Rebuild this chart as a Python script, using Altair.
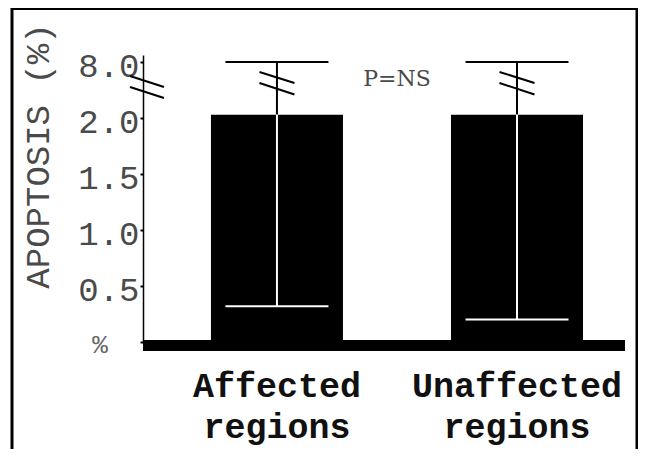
import altair as alt
import pandas as pd

# ---------------- data ----------------
categories = ["Affected regions", "Unaffected regions"]
means = [2.03, 2.03]
upper_err = [8.0, 8.0]
lower_err = [0.32, 0.20]
y_tick_values = [0.0, 0.5, 1.0, 1.5, 2.0, 8.0]
axis_break_value = 2.87   # where the y axis is broken
bar_break_value = 3.69    # where the error bars are broken
p_text = ["P=NS"]
y_title = ["APOPTOSIS (%)"]
zero_label = ["%"]

# ---------------- layout ----------------
W, H = 482, 287
UNIT = 112
MONO = "Liberation Mono, Courier New, monospace"
GREY = "#4a4a4a"
BREAK_BAR = "M-1,-0.63L1,0M-1,0L1,0.66"
BREAK_AXIS = "M-0.97,-0.63L0.97,0M-0.97,0L0.97,0.63"

df = pd.DataFrame({"region": categories, "mean": means,
                   "upper": upper_err, "lower": lower_err})
one = pd.DataFrame({"k": [0]})

yscale = alt.Scale(domain=[0, 2.25, 8.0, 8.5],
                   range=[H, H - 2.25 * UNIT, H - 2.5 * UNIT, 0],
                   nice=False, zero=False)
xscale = alt.Scale(domain=categories, paddingInner=0.45,
                   paddingOuter=0.229, align=0.618)

xaxis = alt.Axis(title=None, labelAngle=0, domain=False, ticks=False,
                 tickSize=0, labelPadding=26, labelFont=MONO,
                 labelFontWeight="bold", labelFontSize=35,
                 labelColor="#111111", labelLineHeight=41,
                 labelLimit=0, labelOverlap=False,
                 labelExpr="split(datum.label, ' ')")
yaxis = alt.Axis(values=y_tick_values, title=None, grid=False,
                 labelExpr="datum.value == 0 ? '' : format(datum.value, '.1f')",
                 labelFont=MONO, labelFontSize=34, labelColor=GREY,
                 tickSize=3, tickColor="black", tickWidth=2,
                 domainColor="black", domainWidth=1.5,
                 labelPadding=1, labelOffset=4,
                 labelOverlap=False, labelFlush=False)

xn = alt.X("region:N", scale=xscale, sort=categories, axis=xaxis)

def yq(field):
    return alt.Y(field, type="quantitative", scale=yscale, axis=yaxis)

def yd(value):
    return alt.YDatum(value, type="quantitative", scale=yscale, axis=yaxis)

base = alt.Chart(df)

frame = alt.Chart(one).mark_rect(fillOpacity=0, stroke="black", strokeWidth=3).encode(
    x=alt.value(-131), x2=alt.value(494), y=alt.value(-46.5), y2=alt.value(520)
)

bars = base.mark_bar(color="black").encode(x=xn, y=yq("mean"))

baseline = alt.Chart(one).mark_rule(color="black", strokeWidth=11, yOffset=3.5).encode(
    x=alt.value(0), x2=alt.value(W), y=yd(0)
)

upper_line = base.mark_rule(color="black", strokeWidth=2).encode(
    x=xn, y=yq("mean"), y2="upper:Q")
upper_cap = base.mark_tick(color="black", thickness=2, size=103, opacity=1).encode(
    x=xn, y=yq("upper"))
lower_line = base.mark_rule(color="white", strokeWidth=2).encode(
    x=xn, y=yq("lower"), y2="mean:Q")
lower_cap = base.mark_tick(color="white", thickness=2, size=103, opacity=1).encode(
    x=xn, y=yq("lower"))

bar_breaks = base.mark_point(shape=BREAK_BAR, filled=False, color="black",
                             strokeWidth=2, size=1225, opacity=1).encode(
    x=xn, y=yd(bar_break_value))

axis_break = alt.Chart(one).mark_point(shape=BREAK_AXIS, filled=False, color="black",
                                       strokeWidth=2, size=1225, opacity=1).encode(
    x=alt.value(4), y=yd(axis_break_value))

ptext = alt.Chart(pd.DataFrame({"t": p_text})).mark_text(
    font="DejaVu Serif", fontSize=22, color=GREY, align="center", baseline="alphabetic"
).encode(x=alt.value(254), y=alt.value(31), text="t:N")

title = alt.Chart(pd.DataFrame({"t": y_title})).mark_text(
    font=MONO, fontSize=34, color=GREY, angle=270, align="center", baseline="alphabetic"
).encode(x=alt.value(-94), y=alt.value(101), text="t:N")

zero = alt.Chart(pd.DataFrame({"t": zero_label})).mark_text(
    font=MONO, fontSize=26, color="#666666", align="center", baseline="middle", yOffset=3
).encode(x=alt.value(-43), y=yd(0), text="t:N")

chart = alt.layer(
    frame, bars, baseline, upper_line, upper_cap, lower_line, lower_cap,
    bar_breaks, axis_break, ptext, title, zero
).properties(
    width=W, height=H,
    padding={"left": 135, "top": 47, "right": 13, "bottom": 107},
    autosize=alt.AutoSizeParams(type="none"),
    background="white",
).configure_view(stroke=None)

chart.save("out.html", embed_options={"renderer": "svg", "actions": False})
